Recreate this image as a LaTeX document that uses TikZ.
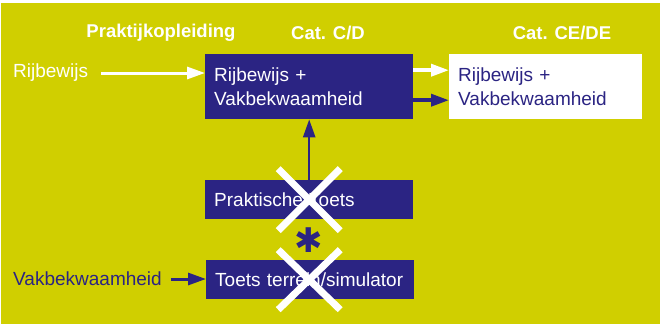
\documentclass[tikz,border=0pt]{standalone}
\usepackage{fontspec}
\setmainfont{Liberation Sans}
\newfontfamily\symfont{DejaVu Sans}
\usetikzlibrary{arrows.meta, calc, positioning}
\definecolor{lime}{RGB}{208,207,0}
\definecolor{navy}{RGB}{43,36,131}

\begin{document}
\begin{tikzpicture}[x=1pt, y=-1pt, >={Triangle[length=18pt, width=12pt]},
  font=\fontsize{19}{24}\selectfont,
  box/.style={fill=navy, text=white, anchor=north west, align=left, inner xsep=9pt, inner ysep=0pt},
  head/.style={text=white, font=\fontsize{18.5}{24}\selectfont\bfseries},
  side/.style={anchor=west, inner sep=0pt},
  cross/.style={draw=white, line width=7pt}]
\useasboundingbox (0,0) rectangle (660,324);
\fill[lime] (1,3) rectangle (660,324);
% column heads
\node[head] (hpo) at (161,33) {Praktijkopleiding};
\node[head] (hcd) at (328,33) {Cat. C/D};
\node[head] (hce) at (562,33) {Cat. CE/DE};
% boxes
\node[box, text width=190pt, minimum height=65pt] (rv) at (205,54) {Rijbewijs +\\Vakbekwaamheid};
\node[box, fill=white, text=navy, text width=175pt, minimum height=65pt] (ce) at (449,54) {Rijbewijs +\\Vakbekwaamheid};
\node[box, text width=190pt, minimum height=39pt] (prak) at (205,180) {Praktische Toets};
\node[box, text width=190pt, minimum height=39pt] (sim) at (206,260) {Toets terrein/simulator};
% side labels
\node[side, text=white] (rbl) at (13,73) {Rijbewijs};
\node[side, text=navy] (vbl) at (13,279) {Vakbekwaamheid};
\node[text=navy, inner sep=0pt, font=\fontsize{34}{34}\symfont] (ast) at (309,240) {✱};
% arrows
\draw[->, white, line width=3pt] ([xshift=13pt]rbl.east) -- (rbl.east -| rv.west);
\draw[->, navy, line width=3pt] ([xshift=9pt]vbl.east) -- (vbl.east -| sim.west);
\draw[->, navy, line width=2.5pt] (prak) -- (rv);
\draw[->, white, line width=3.5pt] ([yshift=16.5pt]rv.east) -- ([yshift=16.5pt]rv.east -| ce.west);
\draw[->, navy, line width=3.5pt] ([yshift=-13.5pt]rv.east) -- ([yshift=-13.5pt]rv.east -| ce.west);
% crossed out
\draw[cross] (prak.center) +(-31,-31) -- +(31,31) +(31,-31) -- +(-31,31);
\draw[cross] ([xshift=-1pt]sim.center) +(-31,-30) -- +(31,30) +(31,-30) -- +(-31,30);
\end{tikzpicture}
\end{document}
